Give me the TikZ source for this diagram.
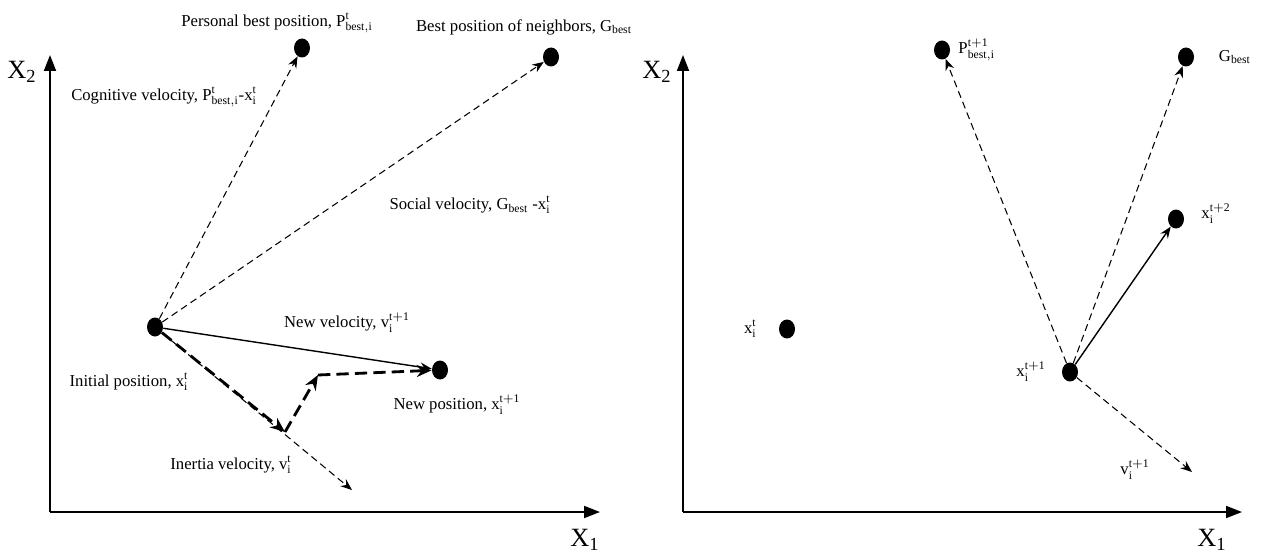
\documentclass[tikz,border=0pt]{standalone}
\usepackage{fontspec}
\setmainfont{Liberation Serif}
\usepackage{tikz}
\usetikzlibrary{arrows.meta,positioning,shapes.geometric}

\newcommand{\ix}[2]{$^{\mathrm{#1}}_{\mathrm{#2}}$}

\begin{document}
\begin{tikzpicture}[
      x=0.02cm,y=-0.02cm,
      dot/.style={ellipse,fill=black,inner sep=0pt,minimum width=0.32cm,minimum height=0.38cm},
      lbl/.style={font=\fontsize{9.5}{11}\selectfont,inner sep=1pt},
      axlbl/.style={font=\fontsize{15}{15}\selectfont,inner sep=0pt},
      axis/.style={-{Triangle[length=3.2mm,width=2.4mm]},line width=1.1pt},
      dar/.style={-{Stealth[length=2.3mm,width=1.8mm]},dash pattern=on 4pt off 2.5pt,line width=0.6pt},
      bar/.style={-{Stealth[length=3mm,width=2.4mm]},dash pattern=on 7pt off 3.5pt,line width=1.6pt},
      sar/.style={-{Stealth[length=2.3mm,width=1.8mm]},line width=0.8pt}]
    \useasboundingbox (0,0) rectangle (1263,557);
    % left panel: axes
    \coordinate (o1) at (50,512);
    \coordinate (ya) at (50,55);
    \coordinate (xa) at (600,512);
    \draw[axis] (o1) -- (ya);
    \draw[axis] (o1) -- (xa);
    \node[axlbl] (xtwo) at (22,72) {X\textsubscript{2}};
    \node[axlbl] (xone) at (585,540) {X\textsubscript{1}};
    % left panel: positions
    \node[dot] (init) at (155,327) {};
    \node[dot] (pbest) at (302,48) {};
    \node[dot] (gbest) at (551,57) {};
    \node[dot] (newp) at (440,370) {};
    \coordinate (iner) at (285,432);
    \coordinate (bend) at (318,375);
    \coordinate (vend) at (352,490);
    \node[lbl] (pblbl) at (277,23) {Personal best position, P\ix{t}{best,i}};
    \node[lbl] (gblbl) at (524,27) {Best position of neighbors, G\textsubscript{best}};
    \node[lbl] (coglbl) at (164,97) {Cognitive velocity, P\ix{t}{best,i}-x\ix{t}{i}};
    \node[lbl] (soclbl) at (470,205) {Social velocity, G\textsubscript{best} -x\ix{t}{i}};
    \node[lbl] (nvlbl) at (347,323) {New velocity, v\ix{t+1}{i}};
    \node[lbl] (inilbl) at (129,382) {Initial position, x\ix{t}{i}};
    \node[lbl] (nplbl) at (457,405) {New position, x\ix{t+1}{i}};
    \node[lbl] (ivlbl) at (231,465) {Inertia velocity, v\ix{t}{i}};
    \draw[dar] (init) -- (pbest);
    \draw[dar] (init) -- (gbest);
    \draw[dar] (init) -- (vend);
    \draw[sar] (init) -- (newp);
    \draw[bar] (init) -- (iner);
    \draw[bar] (iner) -- (bend);
    \draw[bar] (bend) -- (newp);
    % right panel: axes
    \coordinate (o2) at (683,512);
    \coordinate (yb) at (683,55);
    \coordinate (xb) at (1242,512);
    \draw[axis] (o2) -- (yb);
    \draw[axis] (o2) -- (xb);
    \node[axlbl] (xtwob) at (657,72) {X\textsubscript{2}};
    \node[axlbl] (xoneb) at (1212,540) {X\textsubscript{1}};
    % right panel: positions
    \node[dot] (xt) at (787,329) {};
    \node[dot] (xt1) at (1070,372) {};
    \node[dot] (pb2) at (942,50) {};
    \node[dot] (gb2) at (1186,57) {};
    \node[dot] (xt2) at (1176,219) {};
    \coordinate (vend2) at (1192,472);
    \node[lbl,right=0.12cm of pb2] (pb2lbl) {P\ix{t+1}{best,i}};
    \node[lbl,right=0.45cm of gb2] (gb2lbl) {G\textsubscript{best}};
    \node[lbl,right=0.3cm of xt2,yshift=0.1cm] (xt2lbl) {x\ix{t+2}{i}};
    \node[lbl,left=0.4cm of xt] (xtlbl) {x\ix{t}{i}};
    \node[lbl,left=0.28cm of xt1] (xt1lbl) {x\ix{t+1}{i}};
    \node[lbl] (v2lbl) at (1135,470) {v\ix{t+1}{i}};
    \draw[dar] (xt1) -- (pb2);
    \draw[dar] (xt1) -- (gb2);
    \draw[sar] (xt1) -- (xt2);
    \draw[dar] (xt1) -- (vend2);
  \end{tikzpicture}
\end{document}
